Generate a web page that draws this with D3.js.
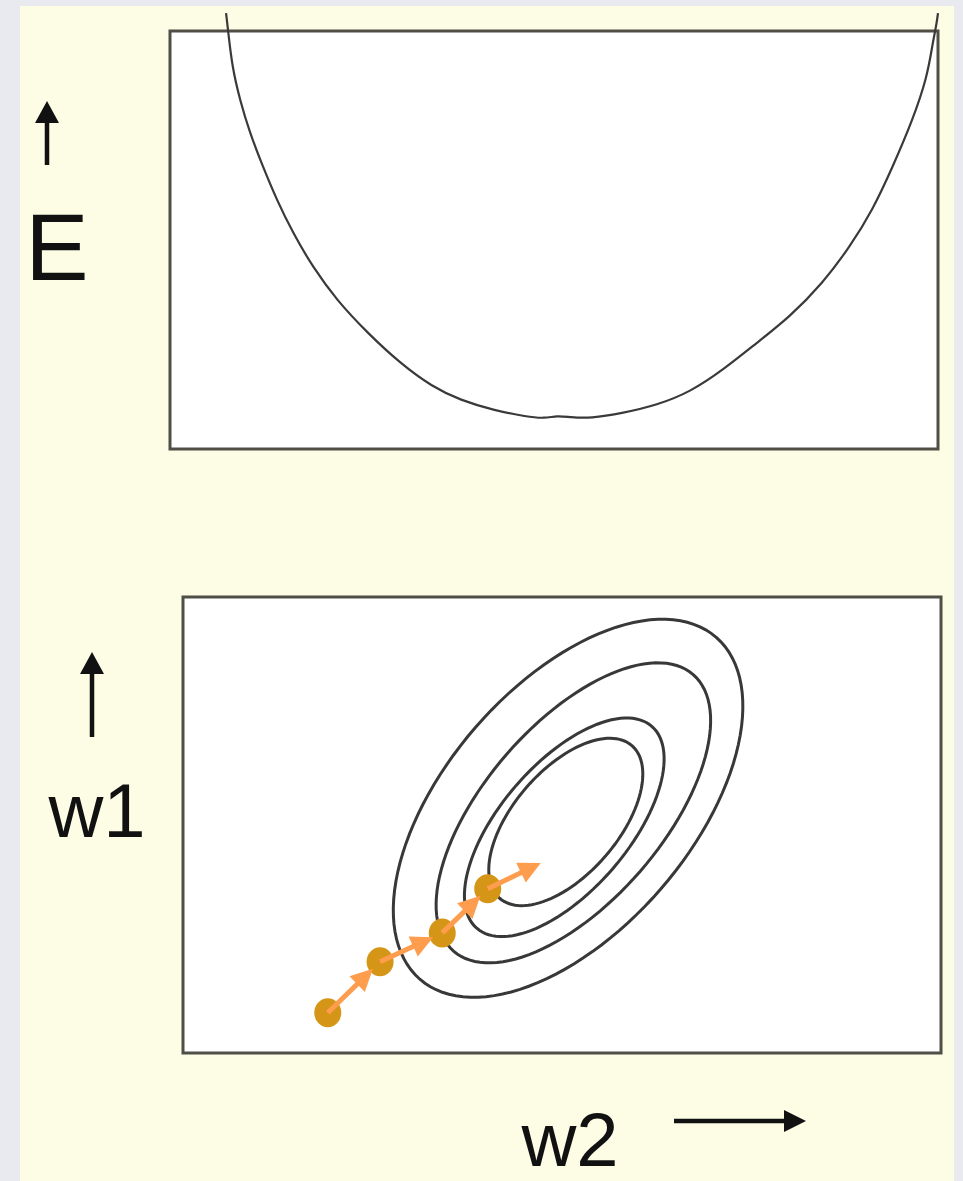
<!DOCTYPE html>
<html>
<head>
<meta charset="utf-8">
<script src="https://cdn.jsdelivr.net/npm/d3@7"></script>
<style>
  body { margin: 0; background: #e8eaef; }
  svg { display: block; }
</style>
</head>
<body>
<div id="container"></div>
<script>
const w = 963;
const h = 1181;

// top panel: error E along one weight direction
const curveW = [7.3, 7.6, 8.1, 9.1, 10.4, 12.1, 13.9, 16.0, 18.6, 21.7, 25.7, 29.9, 34.2, 37.8, 42.1, 46.5, 48.8, 50.4, 52.1, 54.7, 59.0, 63.4, 67.7, 72.0, 76.4, 80.7, 85.0, 88.5, 91.5, 94.1, 96.7, 98.6, 99.3, 99.8, 100.0];
const curveE = [104.3, 99.5, 91.4, 83.5, 75.6, 67.5, 59.6, 51.7, 43.5, 35.6, 27.8, 20.6, 14.8, 11.7, 9.3, 7.7, 7.3, 8.0, 7.6, 7.3, 8.6, 10.5, 13.6, 18.9, 25.4, 31.6, 39.7, 48.3, 57.2, 67.5, 78.7, 89.0, 97.1, 101.5, 104.3];

// bottom panel: contour ellipses in (w2, w1)
const contourCx = [50.8, 51.5, 50.3, 50.5];
const contourCy = [32.2, 31.6, 29.7, 30.4];
const contourA = [29.8, 24.1, 17.6, 13.3];
const contourB = [16.2, 11.7, 8.4, 6.9];
const contourAngle = 49;

// gradient descent steps (last one is only an arrow tip)
const stepW2 = [19.1, 26.0, 34.2, 40.2, 47.2];
const stepW1 = [5.3, 12.0, 15.8, 21.6, 25.0];

const topBox = { left: 170, top: 31, right: 938, bottom: 449 };
const botBox = { left: 183, top: 597, right: 941, bottom: 1053 };

const svg = d3.select("#container")
  .append("svg")
  .attr("width", w)
  .attr("height", h);

svg.append("rect")
  .attr("width", w).attr("height", h)
  .attr("fill", "#e8eaef");
svg.append("rect")
  .attr("x", 20).attr("y", 6)
  .attr("width", 934).attr("height", h - 6)
  .attr("fill", "#fdfce5");

// panels
[topBox, botBox].forEach(b => {
  svg.append("rect")
    .attr("x", b.left).attr("y", b.top)
    .attr("width", b.right - b.left).attr("height", b.bottom - b.top)
    .attr("fill", "#ffffff")
    .attr("stroke", "#4f4f48")
    .attr("stroke-width", 3);
});

const xTop = d3.scaleLinear().domain([0, 100]).range([topBox.left, topBox.right]);
const yTop = d3.scaleLinear().domain([0, 100]).range([topBox.bottom, topBox.top]);
const xBot = d3.scaleLinear().domain([0, 100]).range([botBox.left, botBox.right]);
const yBot = d3.scaleLinear().domain([0, 60]).range([botBox.bottom, botBox.top]);

// error curve
const curvePts = curveW.map((v, i) => [v, curveE[i]]);
svg.append("path")
  .datum(curvePts)
  .attr("d", d3.line()
    .x(d => xTop(d[0]))
    .y(d => yTop(d[1]))
    .curve(d3.curveBasis))
  .attr("fill", "none")
  .attr("stroke", "#3a3a3a")
  .attr("stroke-width", 2.2);

// contours
const th = contourAngle * Math.PI / 180;
contourCx.forEach((cx, k) => {
  const pts = d3.range(0, 121).map(i => {
    const t = i / 120 * 2 * Math.PI;
    const a = contourA[k] * Math.cos(t), b = contourB[k] * Math.sin(t);
    return [cx + a * Math.cos(th) - b * Math.sin(th), contourCy[k] + a * Math.sin(th) + b * Math.cos(th)];
  });
  svg.append("path")
    .datum(pts)
    .attr("d", d3.line()
      .x(d => xBot(d[0]))
      .y(d => yBot(d[1]))
      .curve(d3.curveLinearClosed))
    .attr("fill", "none")
    .attr("stroke", "#383838")
    .attr("stroke-width", 3);
});

// descent dots
svg.selectAll(".step")
  .data(stepW2.slice(0, -1))
  .enter()
  .append("ellipse")
  .attr("class", "step")
  .attr("cx", d => xBot(d))
  .attr("cy", (d, i) => yBot(stepW1[i]))
  .attr("rx", 13.5)
  .attr("ry", 14.5)
  .attr("fill", "#d59516");

function arrow(x1, y1, x2, y2, color, lw, headLen, headW) {
  const dx = x2 - x1, dy = y2 - y1;
  const len = Math.sqrt(dx * dx + dy * dy);
  const ux = dx / len, uy = dy / len;
  const bx = x2 - ux * headLen, by = y2 - uy * headLen;
  svg.append("line")
    .attr("x1", x1).attr("y1", y1)
    .attr("x2", bx + ux).attr("y2", by + uy)
    .attr("stroke", color)
    .attr("stroke-width", lw);
  svg.append("path")
    .attr("d", "M" + x2 + "," + y2 +
      "L" + (bx - uy * headW / 2) + "," + (by + ux * headW / 2) +
      "L" + (bx + uy * headW / 2) + "," + (by - ux * headW / 2) + "Z")
    .attr("fill", color);
}

// descent arrows
for (let i = 0; i < stepW2.length - 1; i++) {
  const x1 = xBot(stepW2[i]), y1 = yBot(stepW1[i]);
  let x2 = xBot(stepW2[i + 1]), y2 = yBot(stepW1[i + 1]);
  if (i < stepW2.length - 2) {
    // stop at the edge of the next dot
    const dx = x2 - x1, dy = y2 - y1;
    const len = Math.sqrt(dx * dx + dy * dy);
    x2 -= dx / len * 10;
    y2 -= dy / len * 10;
  }
  arrow(x1, y1, x2, y2, "#fd9d4d", 5, 22, 22);
}

// axis labels and direction arrows
const font = "'Liberation Sans', Arial, Helvetica, sans-serif";
arrow(47, 165, 47, 101, "#111", 4.5, 22, 24);
svg.append("text")
  .attr("x", 57).attr("y", 280)
  .attr("text-anchor", "middle")
  .attr("font-family", font)
  .attr("font-size", 95)
  .attr("fill", "#111")
  .text("E");

arrow(92, 737, 92, 652, "#111", 4.5, 22, 24);
svg.append("text")
  .attr("x", 97).attr("y", 837)
  .attr("text-anchor", "middle")
  .attr("font-family", font)
  .attr("font-size", 76)
  .attr("fill", "#111")
  .text("w1");

svg.append("text")
  .attr("x", 570).attr("y", 1166)
  .attr("text-anchor", "middle")
  .attr("font-family", font)
  .attr("font-size", 76)
  .attr("fill", "#111")
  .text("w2");
arrow(674, 1121, 806, 1121, "#111", 4.5, 22, 22);
</script>
</body>
</html>
